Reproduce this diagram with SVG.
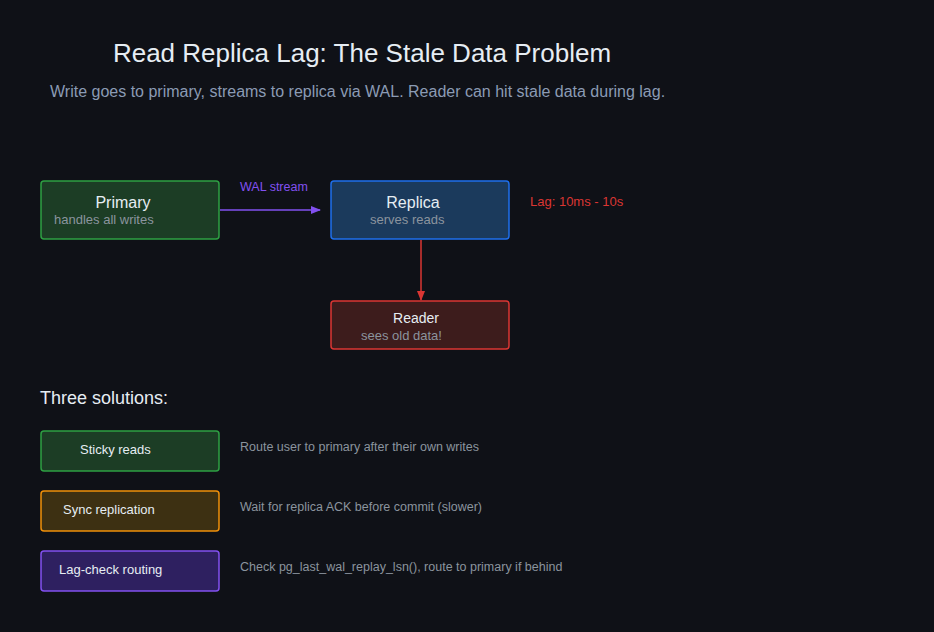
<svg xmlns="http://www.w3.org/2000/svg" width="934" height="632" viewBox="0 0 934 632">
<style>
text{font-family:"Liberation Sans",Arial,sans-serif}
.t{fill:#e6edf3;font-size:16px}
.s{fill:#8b949e;font-size:13px}
.d{fill:#8b949e;font-size:12.5px}
.b{stroke-width:1.5}
.g{fill:#1c3d25;stroke:#2ea043}
.bl{fill:#1b3a5c;stroke:#1f6feb}
.r{fill:#3d1c1c;stroke:#da3633}
.o{fill:#3d3012;stroke:#f0900a}
.p{fill:#2e2060;stroke:#8250f0}
</style>
<defs>
<marker id="ap" markerWidth="10" markerHeight="8" refX="9" refY="4" orient="auto" markerUnits="userSpaceOnUse"><path d="M0,0L10,4L0,8z" fill="#8250f0"/></marker>
<marker id="ar" markerWidth="10" markerHeight="8" refX="9" refY="4" orient="auto" markerUnits="userSpaceOnUse"><path d="M0,0L10,4L0,8z" fill="#da3633"/></marker>
</defs>
<rect width="934" height="632" fill="#0f1117"/>
<text x="362" y="62" text-anchor="middle" fill="#e6edf3" font-size="26">Read Replica Lag: The Stale Data Problem</text>
<text x="50" y="97" fill="#8b9bb4" font-size="16">Write goes to primary, streams to replica via WAL. Reader can hit stale data during lag.</text>
<g id="connectors">
<line x1="220" y1="210" x2="320" y2="210" stroke="#8250f0" stroke-width="1.5" marker-end="url(#ap)"/>
<text x="240" y="191" fill="#8250f0" font-size="12.5">WAL stream</text>
<line x1="421" y1="240" x2="421" y2="300" stroke="#da3633" stroke-width="1.5" marker-end="url(#ar)"/>
</g>
<g id="primary"><rect class="b g" x="41" y="181" width="178" height="58" rx="3"/><text class="t" x="123" y="208" text-anchor="middle">Primary</text><text class="s" x="54" y="224">handles all writes</text></g>
<g id="replica"><rect class="b bl" x="331" y="181" width="178" height="58" rx="3"/><text class="t" x="413" y="208" text-anchor="middle">Replica</text><text class="s" x="370" y="224">serves reads</text></g>
<text x="530" y="206" fill="#da3633" font-size="13">Lag: 10ms - 10s</text>
<g id="reader"><rect class="b r" x="331" y="301" width="178" height="48" rx="3"/><text x="416" y="323" text-anchor="middle" fill="#e6edf3" font-size="14">Reader</text><text class="s" x="361" y="340">sees old data!</text></g>
<text x="40" y="404" fill="#e6edf3" font-size="18">Three solutions:</text>
<g id="sticky"><rect class="b g" x="41" y="431" width="178" height="40" rx="3"/><text x="80" y="454" fill="#e6edf3" font-size="13">Sticky reads</text></g>
<text class="d" x="240" y="451">Route user to primary after their own writes</text>
<g id="sync"><rect class="b o" x="41" y="491" width="178" height="40" rx="3"/><text x="63" y="514" fill="#e6edf3" font-size="13">Sync replication</text></g>
<text class="d" x="240" y="511">Wait for replica ACK before commit (slower)</text>
<g id="lagcheck"><rect class="b p" x="41" y="551" width="178" height="40" rx="3"/><text x="59" y="574" fill="#e6edf3" font-size="13">Lag-check routing</text></g>
<text class="d" x="240" y="571">Check pg_last_wal_replay_lsn(), route to primary if behind</text>
</svg>
